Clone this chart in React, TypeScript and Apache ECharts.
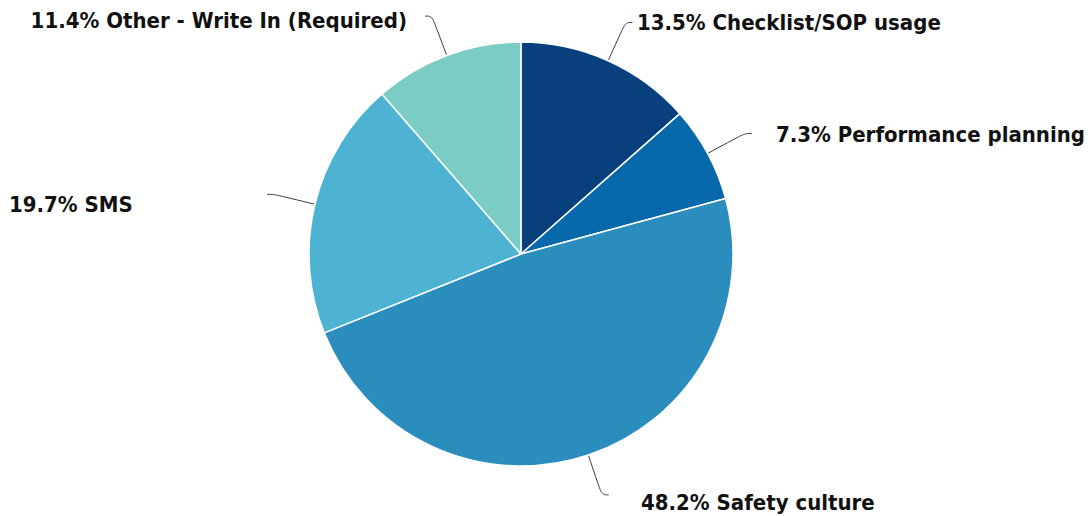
import React, { useEffect, useRef } from "react";
import * as echarts from "echarts";

const categories = [
  "Checklist/SOP usage",
  "Performance planning",
  "Safety culture",
  "SMS",
  "Other - Write In (Required)",
];
const percentages = [13.5, 7.3, 48.2, 19.7, 11.4];
const sliceColors = ["#08407e", "#0868ac", "#2b8cbe", "#4eb3d3", "#7bccc4"];

// label placement (layout, not data)
const labelPlacement: { x: number; y: number; align: "left" | "right" }[] = [
  { x: 637, y: 22, align: "left" },
  { x: 1085, y: 134, align: "right" },
  { x: 641, y: 502, align: "left" },
  { x: 9, y: 204, align: "left" },
  { x: 407, y: 20, align: "right" },
];

export default function App() {
  const ref = useRef<HTMLDivElement>(null);
  useEffect(() => {
    if (!ref.current) return;
    const chart = echarts.init(ref.current, null, { renderer: "svg" });
    const data = categories.map((name, i) => ({
      name,
      value: percentages[i],
      itemStyle: { color: sliceColors[i] },
    }));
    chart.setOption({
      animation: false,
      backgroundColor: "#ffffff",
      series: [
        {
          type: "pie",
          center: [521, 254],
          radius: 212,
          startAngle: 90,
          clockwise: true,
          silent: true,
          data,
          itemStyle: { borderColor: "#ffffff", borderWidth: 1.5 },
          label: {
            show: true,
            formatter: "{c}% {b}",
            fontFamily: "'DejaVu Sans Condensed', 'Liberation Sans Narrow', sans-serif",
            fontWeight: "bold",
            fontSize: 22,
            color: "#111111",
          },
          labelLine: {
            show: true,
            length: 42,
            length2: 7,
            smooth: 0.4,
            lineStyle: { color: "#3a3a3a", width: 1 },
          },
          labelLayout: (params: any) => {
            const p = labelPlacement[params.dataIndex];
            return {
              x: p.x,
              y: p.y,
              align: p.align,
              verticalAlign: "middle",
              labelLinePoints: params.labelLinePoints,
            };
          },
        },
      ],
    });
    return () => chart.dispose();
  }, []);
  return (
    <div
      ref={ref}
      style={{ position: "fixed", left: 0, top: 0, width: 1092, height: 516 }}
    />
  );
}
